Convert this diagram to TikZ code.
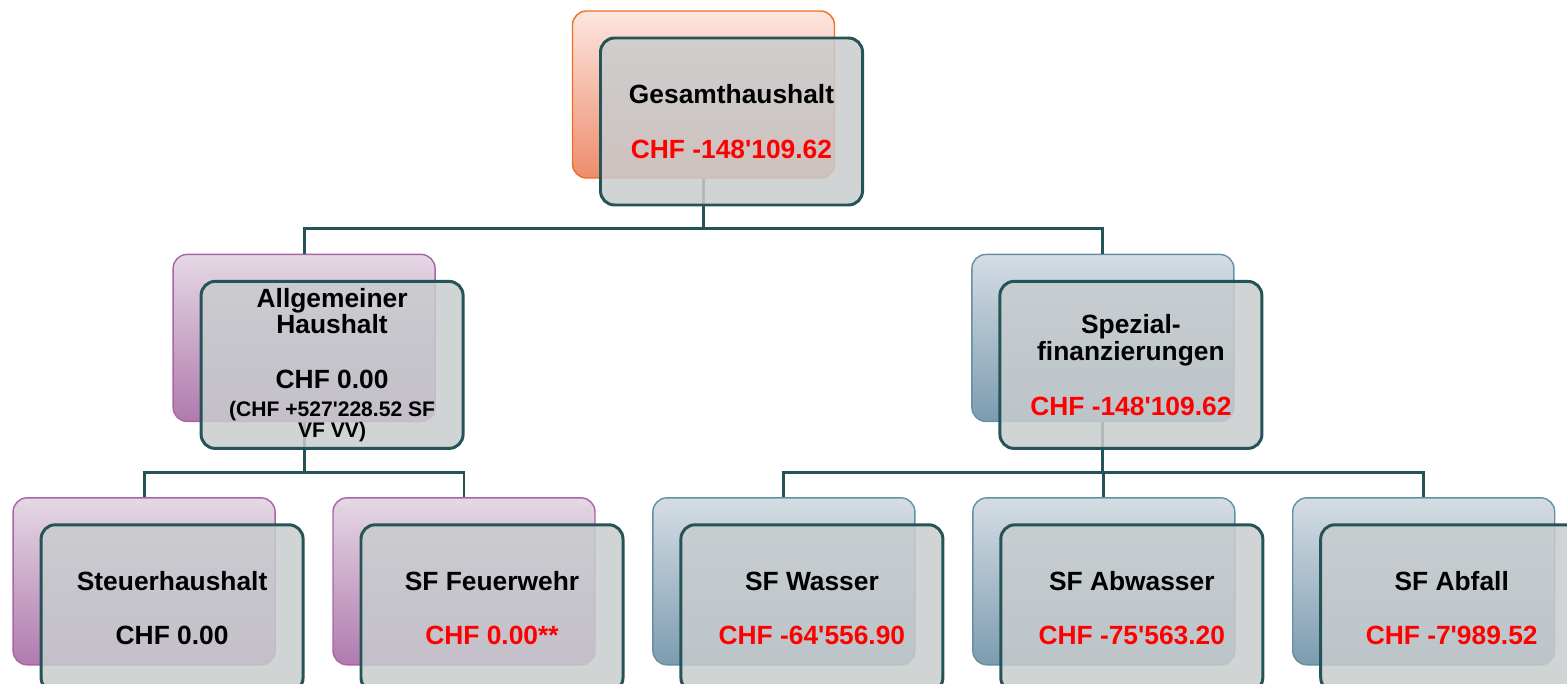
\documentclass[tikz,border=0pt]{standalone}
\usepackage{fontspec}
\setmainfont{Liberation Sans}[Ligatures=TeXOff]
\usetikzlibrary{positioning,calc}
\definecolor{boxline}{RGB}{36,84,88}
\definecolor{boxfill}{RGB}{200,204,206}
\definecolor{orangeline}{RGB}{237,112,34}
\definecolor{orangetop}{RGB}{251,230,224}
\definecolor{orangebot}{RGB}{238,140,108}
\definecolor{purpleline}{RGB}{168,101,166}
\definecolor{purpletop}{RGB}{229,216,228}
\definecolor{purplebot}{RGB}{176,122,174}
\definecolor{blueline}{RGB}{100,143,165}
\definecolor{bluetop}{RGB}{213,221,228}
\definecolor{bluebot}{RGB}{124,156,176}
\definecolor{amountred}{RGB}{255,0,0}
\newcommand{\amount}[1]{\textcolor{amountred}{#1}}
\newcommand{\smallline}[1]{{\fontsize{12}{13}\selectfont #1}}

\begin{document}
\begin{tikzpicture}[
    back/.style={rectangle, rounded corners=8pt, minimum width=5.24cm, minimum height=3.34cm, inner sep=0pt, line width=0.8pt},
    backorange/.style={back, draw=orangeline, top color=orangetop, bottom color=orangebot},
    backpurple/.style={back, draw=purpleline, top color=purpletop, bottom color=purplebot},
    backblue/.style={back, draw=blueline, top color=bluetop, bottom color=bluebot},
    front/.style={rectangle, rounded corners=8pt, draw=boxline, line width=1.7pt, fill=boxfill, fill opacity=0.85, text opacity=1, minimum width=5.24cm, minimum height=3.34cm, inner sep=0pt, align=center, font=\bfseries\fontsize{15}{15.5}\selectfont},
    link/.style={draw=boxline, line width=1.7pt}
]
    \useasboundingbox (0,0) rectangle (31.34,-13.68);

    % Back boxes
    \node[backorange] (gh-back) at (14.07,-1.89) {};
    \node[backpurple, below left=1.5cm and 2.72cm of gh-back] (ah-back) {};
    \node[backblue, below right=1.5cm and 2.72cm of gh-back] (sf-back) {};

    \node[backpurple, below=1.5cm of ah-back, xshift=-3.2cm] (st-back) {};
    \node[backpurple, right=1.13cm of st-back] (fw-back) {};
    \node[backblue, right=1.13cm of fw-back] (wa-back) {};
    \node[backblue, right=1.13cm of wa-back] (aw-back) {};
    \node[backblue, right=1.13cm of aw-back] (af-back) {};

    % Links
    \draw[link] (gh-back.south) -- ++(0,-1) -| (ah-back.north);
    \draw[link] (gh-back.south) -- ++(0,-1) -| (sf-back.north);
    \draw[link] (ah-back.south) -- ++(0,-1) -| (st-back.north);
    \draw[link] (ah-back.south) -- ++(0,-1) -| (fw-back.north);
    \draw[link] (sf-back.south) -- ++(0,-1) -| (wa-back.north);
    \draw[link] (sf-back.south) -- ++(0,-1) -| (aw-back.north);
    \draw[link] (sf-back.south) -- ++(0,-1) -| (af-back.north);

    % Front boxes
    \node[front] (gh) at ($(gh-back)+(0.56,-0.54)$) {Gesamthaushalt\\[16pt]\amount{CHF -148'109.62}};
    \node[front] (ah) at ($(ah-back)+(0.56,-0.54)$) {Allgemeiner\\[-0.5pt]Haushalt\\[16pt]CHF 0.00\\\smallline{(CHF +527'228.52 SF}\\[-3.5pt]\smallline{VF VV)}};
    \node[front] (sf) at ($(sf-back)+(0.56,-0.54)$) {Spezial-\\finanzierungen\\[16pt]\amount{CHF -148'109.62}};
    \node[front] (st) at ($(st-back)+(0.56,-0.54)$) {Steuerhaushalt\\[15pt]CHF 0.00};
    \node[front] (fw) at ($(fw-back)+(0.56,-0.54)$) {SF Feuerwehr\\[15pt]\amount{CHF 0.00**}};
    \node[front] (wa) at ($(wa-back)+(0.56,-0.54)$) {SF Wasser\\[15pt]\amount{CHF -64'556.90}};
    \node[front] (aw) at ($(aw-back)+(0.56,-0.54)$) {SF Abwasser\\[15pt]\amount{CHF -75'563.20}};
    \node[front] (af) at ($(af-back)+(0.56,-0.54)$) {SF Abfall\\[15pt]\amount{CHF -7'989.52}};
\end{tikzpicture}
\end{document}
